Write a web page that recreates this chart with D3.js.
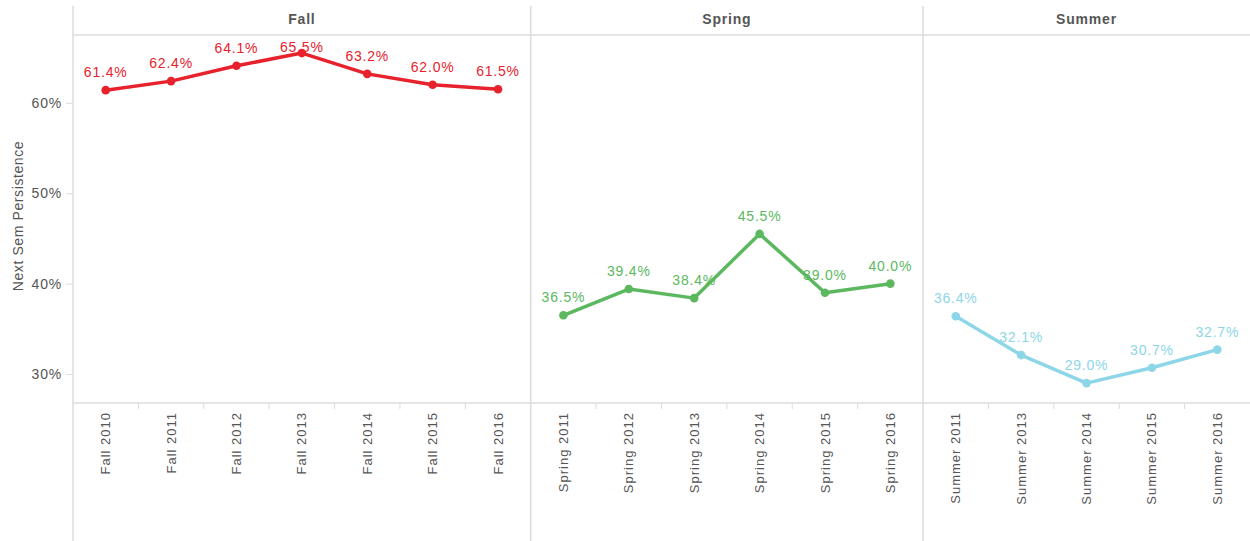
<!DOCTYPE html>
<html>
<head>
<meta charset="utf-8">
<script src="https://cdn.jsdelivr.net/npm/d3@7"></script>
<style>
  body { margin: 0; background: #fff; }
  svg text { font-family: "Liberation Sans", Arial, sans-serif; }
</style>
</head>
<body>
<div id="chart"></div>
<script>
// data
var seasons = ["Fall", "Spring", "Summer"];
var fallTerms = ["Fall 2010", "Fall 2011", "Fall 2012", "Fall 2013", "Fall 2014", "Fall 2015", "Fall 2016"];
var fallValues = [61.4, 62.4, 64.1, 65.5, 63.2, 62.0, 61.5];
var springTerms = ["Spring 2011", "Spring 2012", "Spring 2013", "Spring 2014", "Spring 2015", "Spring 2016"];
var springValues = [36.5, 39.4, 38.4, 45.5, 39.0, 40.0];
var summerTerms = ["Summer 2011", "Summer 2013", "Summer 2014", "Summer 2015", "Summer 2016"];
var summerValues = [36.4, 32.1, 29.0, 30.7, 32.7];
var yTicks = [30, 40, 50, 60];
var seasonColors = ["#e8222c", "#5cb85f", "#8dd6e8"];

var W = 1250, H = 541;
var left = 73, right = 1250;
var headTop = 6, headLine = 35, axisY = 403;
var gridColor = "#dcdcdc", textColor = "#555";

var panels = [
  { name: seasons[0], terms: fallTerms, values: fallValues, color: seasonColors[0] },
  { name: seasons[1], terms: springTerms, values: springValues, color: seasonColors[1] },
  { name: seasons[2], terms: summerTerms, values: summerValues, color: seasonColors[2] }
];

var total = d3.sum(panels, function (p) { return p.terms.length; });
var step = (right - left) / total;

var svg = d3.select("#chart").append("svg").attr("width", W).attr("height", H);

var ys = d3.scaleLinear().domain([26.8, 67.5]).range([axisY, headLine]);

// y axis
var yAxis = svg.append("g")
  .attr("transform", "translate(" + left + ",0)")
  .call(d3.axisLeft(ys).tickValues(yTicks).tickSize(7).tickPadding(4).tickFormat(function (d) { return d + "%"; }));
yAxis.select(".domain").remove();
yAxis.selectAll("line").attr("stroke", gridColor);
yAxis.selectAll("text")
  .attr("fill", textColor)
  .style("font-size", "14px")
  .style("letter-spacing", "0.8px");

svg.append("text")
  .attr("transform", "translate(23," + 216 + ") rotate(-90)")
  .attr("text-anchor", "middle")
  .attr("fill", textColor)
  .style("font-size", "14px")
  .style("letter-spacing", "0.6px")
  .text("Next Sem Persistence");

// frame lines
svg.append("line").attr("x1", left).attr("x2", left).attr("y1", headTop).attr("y2", H)
  .attr("stroke", gridColor).attr("stroke-width", 1.5);
svg.append("line").attr("x1", left).attr("x2", right).attr("y1", headLine).attr("y2", headLine)
  .attr("stroke", gridColor).attr("stroke-width", 1.5);
svg.append("line").attr("x1", left).attr("x2", right).attr("y1", axisY).attr("y2", axisY)
  .attr("stroke", gridColor).attr("stroke-width", 1.5);

var x0 = left;
panels.forEach(function (p, pi) {
  var x1 = x0 + step * p.terms.length;
  var xs = d3.scaleBand().domain(p.terms).range([x0, x1]).padding(0);

  if (pi > 0) {
    svg.append("line").attr("x1", x0).attr("x2", x0).attr("y1", headTop).attr("y2", H)
      .attr("stroke", gridColor).attr("stroke-width", 1.5);
  }

  // header
  svg.append("text")
    .attr("x", (x0 + x1) / 2).attr("y", 24)
    .attr("text-anchor", "middle")
    .attr("fill", "#555")
    .style("font-size", "14px")
    .style("font-weight", "bold")
    .style("letter-spacing", "0.8px")
    .text(p.name);

  // x axis
  var xAxis = svg.append("g")
    .attr("transform", "translate(0," + axisY + ")")
    .call(d3.axisBottom(xs).tickSize(0).tickPadding(0));
  xAxis.select(".domain").remove();
  xAxis.selectAll("text")
    .attr("transform", "rotate(-90)")
    .attr("x", -9).attr("y", 0).attr("dy", "0.35em")
    .style("text-anchor", "end")
    .attr("fill", textColor)
    .style("font-size", "13px")
    .style("letter-spacing", "1px");

  // band boundary ticks
  svg.append("g").selectAll("line")
    .data(p.terms.slice(1))
    .enter().append("line")
    .attr("x1", function (d) { return xs(d); })
    .attr("x2", function (d) { return xs(d); })
    .attr("y1", axisY).attr("y2", axisY + 6)
    .attr("stroke", gridColor);

  var pts = p.terms.map(function (t, i) { return { term: t, value: p.values[i] }; });
  var line = d3.line()
    .x(function (d) { return xs(d.term) + xs.bandwidth() / 2; })
    .y(function (d) { return ys(d.value); });

  svg.append("path")
    .datum(pts)
    .attr("d", line)
    .attr("fill", "none")
    .attr("stroke", p.color)
    .attr("stroke-width", 3.5)
    .attr("stroke-linejoin", "round");

  svg.append("g").selectAll("circle")
    .data(pts)
    .enter().append("circle")
    .attr("cx", function (d) { return xs(d.term) + xs.bandwidth() / 2; })
    .attr("cy", function (d) { return ys(d.value); })
    .attr("r", 4.3)
    .attr("fill", p.color);

  // labels stay inside the pane, below the header line
  svg.append("g").selectAll("text")
    .data(pts)
    .enter().append("text")
    .attr("x", function (d) { return xs(d.term) + xs.bandwidth() / 2; })
    .attr("y", function (d) { return Math.max(ys(d.value) - 13, headLine + 17); })
    .attr("text-anchor", "middle")
    .attr("fill", p.color)
    .style("font-size", "14px")
    .style("letter-spacing", "0.8px")
    .text(function (d) { return d.value.toFixed(1) + "%"; });

  x0 = x1;
});
</script>
</body>
</html>
